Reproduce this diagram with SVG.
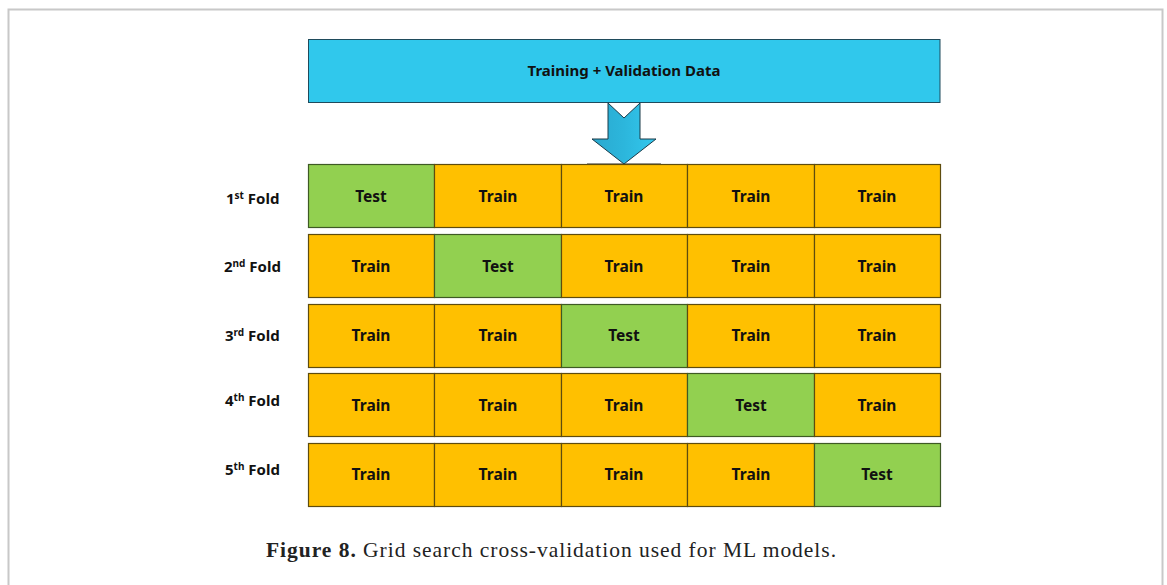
<svg xmlns="http://www.w3.org/2000/svg" width="1167" height="585" viewBox="0 0 1167 585">
<defs>
<style>
.lbl{font-family:"Noto Sans","Liberation Sans",sans-serif;font-weight:700;font-size:15px;fill:#111}
.cell{font-family:"Noto Sans","Liberation Sans",sans-serif;font-weight:700;font-size:15.5px;fill:#111;text-anchor:middle}
.train{fill:#FFC000;stroke:#5E4C0E;stroke-width:1.2}
.test{fill:#92D050;stroke:#3E5A24;stroke-width:1.2}
.cap{font-family:"Liberation Serif",serif;font-size:21.5px;fill:#222}
</style>
<linearGradient id="ag" x1="0" y1="0" x2="1" y2="0">
<stop offset="0" stop-color="#2AA9CF"/>
<stop offset="0.5" stop-color="#2CB6DC"/>
<stop offset="1" stop-color="#33C8EE"/>
</linearGradient>
</defs>
<rect x="0" y="0" width="1167" height="585" fill="#fff"/>
<rect x="8.5" y="9.5" width="1154" height="600" fill="none" stroke="#c8c8c8" stroke-width="2"/>

<g id="data">
<rect x="308.5" y="39.5" width="631.5" height="63" fill="#30C8EC" stroke="#1F4B5C" stroke-width="1"/>
<text class="cell" x="624" y="76" style="font-size:15px">Training + Validation Data</text>
</g>

<g id="connectors">
<line x1="587" y1="163.5" x2="661" y2="163.5" stroke="#9a9a9a" stroke-width="1"/>
<path d="M608,103 L624,118 L640,103 L640,139 L656,139 L624,164 L592,139 L608,139 Z" fill="url(#ag)" stroke="#1a3a48" stroke-width="1"/>
</g>

<g id="labels">
<text class="lbl" x="226" y="204">1<tspan dy="-5" font-size="10">st</tspan><tspan dy="5"> Fold</tspan></text>
<text class="lbl" x="224" y="272">2<tspan dy="-5" font-size="10">nd</tspan><tspan dy="5"> Fold</tspan></text>
<text class="lbl" x="225" y="341">3<tspan dy="-5" font-size="10">rd</tspan><tspan dy="5"> Fold</tspan></text>
<text class="lbl" x="225" y="406">4<tspan dy="-5" font-size="10">th</tspan><tspan dy="5"> Fold</tspan></text>
<text class="lbl" x="225" y="475">5<tspan dy="-5" font-size="10">th</tspan><tspan dy="5"> Fold</tspan></text>
</g>

<g id="fold1">
<rect class="test" x="308.5" y="164.5" width="126" height="63"/><text class="cell" x="371" y="202">Test</text>
<rect class="train" x="434.5" y="164.5" width="127" height="63"/><text class="cell" x="498" y="202">Train</text>
<rect class="train" x="561.5" y="164.5" width="126" height="63"/><text class="cell" x="624" y="202">Train</text>
<rect class="train" x="687.5" y="164.5" width="127" height="63"/><text class="cell" x="751" y="202">Train</text>
<rect class="train" x="814.5" y="164.5" width="126" height="63"/><text class="cell" x="877" y="202">Train</text>
</g>
<g id="fold2">
<rect class="train" x="308.5" y="234.5" width="126" height="63"/><text class="cell" x="371" y="272">Train</text>
<rect class="test" x="434.5" y="234.5" width="127" height="63"/><text class="cell" x="498" y="272">Test</text>
<rect class="train" x="561.5" y="234.5" width="126" height="63"/><text class="cell" x="624" y="272">Train</text>
<rect class="train" x="687.5" y="234.5" width="127" height="63"/><text class="cell" x="751" y="272">Train</text>
<rect class="train" x="814.5" y="234.5" width="126" height="63"/><text class="cell" x="877" y="272">Train</text>
</g>
<g id="fold3">
<rect class="train" x="308.5" y="304.5" width="126" height="63"/><text class="cell" x="371" y="341">Train</text>
<rect class="train" x="434.5" y="304.5" width="127" height="63"/><text class="cell" x="498" y="341">Train</text>
<rect class="test" x="561.5" y="304.5" width="126" height="63"/><text class="cell" x="624" y="341">Test</text>
<rect class="train" x="687.5" y="304.5" width="127" height="63"/><text class="cell" x="751" y="341">Train</text>
<rect class="train" x="814.5" y="304.5" width="126" height="63"/><text class="cell" x="877" y="341">Train</text>
</g>
<g id="fold4">
<rect class="train" x="308.5" y="373.5" width="126" height="63"/><text class="cell" x="371" y="411">Train</text>
<rect class="train" x="434.5" y="373.5" width="127" height="63"/><text class="cell" x="498" y="411">Train</text>
<rect class="train" x="561.5" y="373.5" width="126" height="63"/><text class="cell" x="624" y="411">Train</text>
<rect class="test" x="687.5" y="373.5" width="127" height="63"/><text class="cell" x="751" y="411">Test</text>
<rect class="train" x="814.5" y="373.5" width="126" height="63"/><text class="cell" x="877" y="411">Train</text>
</g>
<g id="fold5">
<rect class="train" x="308.5" y="443.5" width="126" height="63"/><text class="cell" x="371" y="480">Train</text>
<rect class="train" x="434.5" y="443.5" width="127" height="63"/><text class="cell" x="498" y="480">Train</text>
<rect class="train" x="561.5" y="443.5" width="126" height="63"/><text class="cell" x="624" y="480">Train</text>
<rect class="train" x="687.5" y="443.5" width="127" height="63"/><text class="cell" x="751" y="480">Train</text>
<rect class="test" x="814.5" y="443.5" width="126" height="63"/><text class="cell" x="877" y="480">Test</text>
</g>

<g id="caption">
<text class="cap" x="266" y="557" textLength="570" lengthAdjust="spacing"><tspan font-weight="700">Figure 8.</tspan> Grid search cross-validation used for ML models.</text>
</g>
</svg>
